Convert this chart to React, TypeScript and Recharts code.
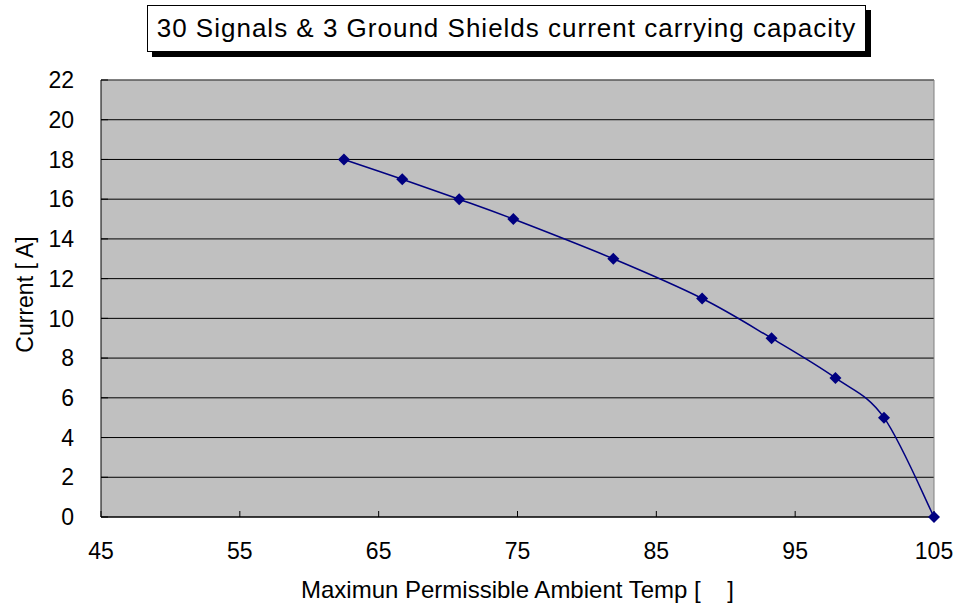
import React from 'react';
import { LineChart, Line, XAxis, YAxis, CartesianGrid, ReferenceLine } from 'recharts';

const temps = [62.5, 66.7, 70.8, 74.7, 81.9, 88.3, 93.3, 97.9, 101.4, 105];
const currents = [18, 17, 16, 15, 13, 11, 9, 7, 5, 0];
const xTicks = [45, 55, 65, 75, 85, 95, 105];
const yTicks = [0, 2, 4, 6, 8, 10, 12, 14, 16, 18, 20, 22];

const title = '30 Signals & 3 Ground Shields current carrying capacity';
const xLabel = 'Maximun Permissible Ambient Temp [\u00A0\u00A0\u00A0\u00A0]';
const yLabel = 'Current [ A]';

const data = temps.map((t, i) => ({ temp: t, current: currents[i] }));

const FONT = '"Liberation Sans", Arial, sans-serif';

// Excel style smoothed line (Catmull-Rom -> bezier)
const excelCurve = (ctx: any) => {
  let pts: number[][] = [];
  return {
    areaStart() {},
    areaEnd() {},
    lineStart() {
      pts = [];
    },
    point(x: number, y: number) {
      pts.push([x, y]);
    },
    lineEnd() {
      if (!pts.length) return;
      ctx.moveTo(pts[0][0], pts[0][1]);
      for (let i = 0; i < pts.length - 1; i++) {
        const p0 = pts[i - 1] || pts[i];
        const p1 = pts[i];
        const p2 = pts[i + 1];
        const p3 = pts[i + 2] || p2;
        ctx.bezierCurveTo(
          p1[0] + (p2[0] - p0[0]) / 6,
          p1[1] + (p2[1] - p0[1]) / 6,
          p2[0] - (p3[0] - p1[0]) / 6,
          p2[1] - (p3[1] - p1[1]) / 6,
          p2[0],
          p2[1]
        );
      }
    },
  };
};

const Diamond = (props: any) => {
  const { cx, cy } = props;
  if (cx == null || cy == null) return null;
  const r = 6;
  return (
    <polygon
      points={`${cx},${cy - r} ${cx + r},${cy} ${cx},${cy + r} ${cx - r},${cy}`}
      fill="#000080"
    />
  );
};

const YTitle = (props: any) => {
  const { viewBox } = props;
  const cx = viewBox.x + 33;
  const cy = viewBox.y + viewBox.height / 2 - 4;
  return (
    <text
      x={cx}
      y={cy}
      transform={`rotate(-90, ${cx}, ${cy})`}
      textAnchor="middle"
      fontSize={23}
      fontFamily={FONT}
      fill="#000"
    >
      {yLabel}
    </text>
  );
};

export default function App() {
  return (
    <div style={{ position: 'absolute', left: 0, top: 0, width: 959, height: 611, background: '#fff' }}>
      <LineChart
        width={959}
        height={611}
        data={data}
        margin={{ top: 80, right: 25, bottom: 0, left: 0 }}
      >
        <CartesianGrid vertical={false} stroke="#000" fill="#C0C0C0" fillOpacity={1} />
        <XAxis
          dataKey="temp"
          type="number"
          domain={[45, 105]}
          ticks={xTicks}
          height={94}
          tickSize={-6}
          tickMargin={32}
          axisLine={{ stroke: '#000' }}
          tickLine={{ stroke: '#000' }}
          tick={{ fontSize: 23, fontFamily: FONT, fill: '#000' }}
          label={{ value: xLabel, position: 'insideBottom', offset: 13, fontSize: 24, fontFamily: FONT, fill: '#000' }}
        />
        <YAxis
          type="number"
          domain={[0, 22]}
          ticks={yTicks}
          width={101}
          tickSize={-7}
          tickMargin={34}
          axisLine={{ stroke: '#000' }}
          tickLine={{ stroke: '#000' }}
          tick={{ fontSize: 23, fontFamily: FONT, fill: '#000' }}
          label={<YTitle />}
        />
        <ReferenceLine y={22} stroke="#808080" />
        <ReferenceLine x={105} stroke="#808080" />
        <Line
          type={excelCurve as any}
          dataKey="current"
          stroke="#000080"
          strokeWidth={1.5}
          dot={<Diamond />}
          activeDot={false}
          isAnimationActive={false}
        />
      </LineChart>
      <div
        style={{
          position: 'absolute',
          left: 147,
          top: 5,
          width: 717,
          height: 45,
          border: '1px solid #000',
          background: '#fff',
          boxShadow: '5px 5px 0 #000',
          display: 'flex',
          alignItems: 'center',
          justifyContent: 'center',
          fontFamily: FONT,
          fontSize: 26,
          letterSpacing: 1,
          color: '#000',
          whiteSpace: 'nowrap',
        }}
      >
        {title}
      </div>
    </div>
  );
}
